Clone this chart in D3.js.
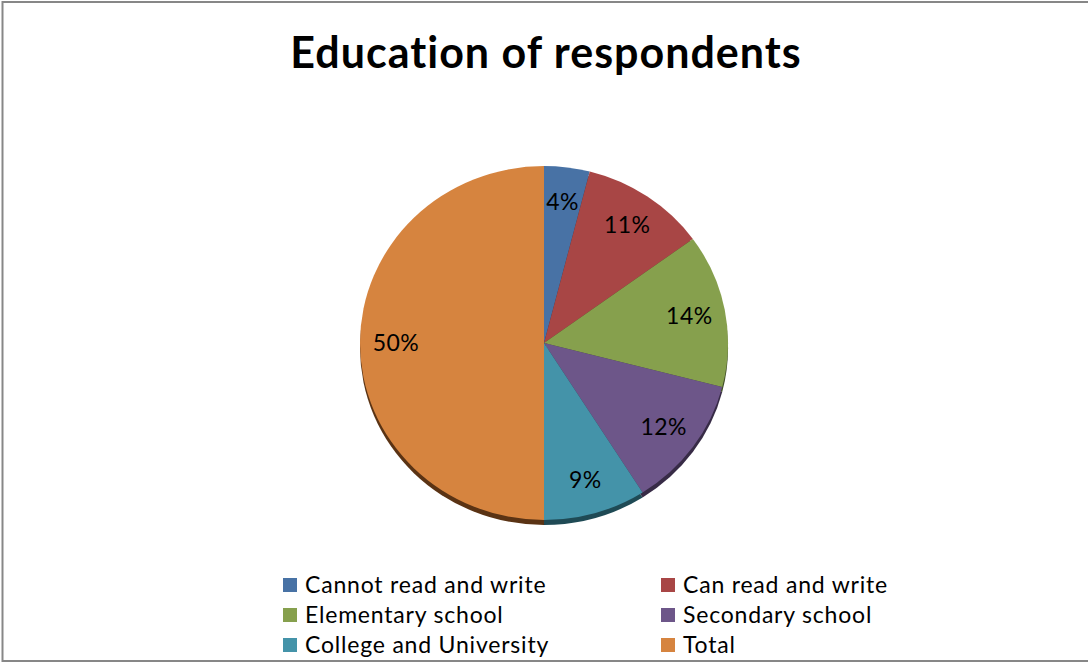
<!DOCTYPE html>
<html>
<head>
<meta charset="utf-8">
<script src="https://cdn.jsdelivr.net/npm/d3@7"></script>
<style>
  html, body { margin: 0; padding: 0; background: #fff; }
  svg { display: block; }
  text { font-variant-ligatures: none; font-feature-settings: "liga" 0; }
</style>
</head>
<body>
<svg id="chart" width="1088" height="663"></svg>
<script>
// ---- data ----
const categories = ["Cannot read and write", "Can read and write", "Elementary school",
                    "Secondary school", "College and University", "Total"];
const values = [4, 11, 14, 12, 9, 50];
const labels = ["4%", "11%", "14%", "12%", "9%", "50%"];
const colors = ["#4872A5", "#A84645", "#86A04D", "#6D5689", "#4493A9", "#D6843F"];
const sideColors = ["#243A55", "#562322", "#43502A", "#372B46", "#1F4A55", "#5A3314"];
const title = "Education of respondents";

const svg = d3.select("#chart");
const W = 1088, H = 663;
const font = "Lato, 'Open Sans', sans-serif";

// border
svg.append("rect")
  .attr("x", 2.5).attr("y", 2).attr("width", W + 10).attr("height", 659)
  .attr("fill", "#fff").attr("stroke", "#878787").attr("stroke-width", 2);

// title
svg.append("text")
  .attr("x", 546).attr("y", 68)
  .attr("text-anchor", "middle")
  .attr("font-family", font).attr("font-weight", "bold")
  .attr("font-size", 43)
  .attr("letter-spacing", 1)
  .attr("fill", "#000")
  .text(title);

// pie
const cx = 544, cy = 343, r = 184, ry = 177;
const sy = ry / r;
const pie = d3.pie().sort(null).value(d => d)(values);
const arc = d3.arc().innerRadius(0).outerRadius(r);
const labelArc = d3.arc().innerRadius(148).outerRadius(148);

// side (3D depth)
const depth = 5;
const side = svg.append("g").attr("transform", `translate(${cx},${cy + depth}) scale(1,${sy})`);
side.selectAll("path").data(pie).join("path")
  .attr("d", arc)
  .attr("fill", (d, i) => sideColors[i]);

const face = svg.append("g").attr("transform", `translate(${cx},${cy}) scale(1,${sy})`);
face.selectAll("path").data(pie).join("path")
  .attr("d", arc)
  .attr("fill", (d, i) => colors[i]);

// slice labels
svg.append("g").selectAll("text").data(pie).join("text")
  .attr("x", d => cx + labelArc.centroid(d)[0])
  .attr("y", d => cy + labelArc.centroid(d)[1] * sy + 8)
  .attr("text-anchor", "middle")
  .attr("font-family", font).attr("font-size", 23)
  .attr("letter-spacing", 0.5)
  .attr("fill", "#000")
  .text((d, i) => labels[i]);

// legend
const colX = [283, 661];
const rowY = [593, 623, 653];
const leg = svg.append("g");
categories.forEach((c, i) => {
  const x = colX[i % 2], y = rowY[Math.floor(i / 2)];
  leg.append("rect")
    .attr("x", x).attr("y", y - 15).attr("width", 14).attr("height", 14)
    .attr("fill", colors[i]);
  leg.append("text")
    .attr("x", x + 22).attr("y", y)
    .attr("font-family", font).attr("font-size", 23)
    .attr("letter-spacing", 0.8)
    .attr("fill", "#000")
    .text(c);
});
</script>
</body>
</html>
